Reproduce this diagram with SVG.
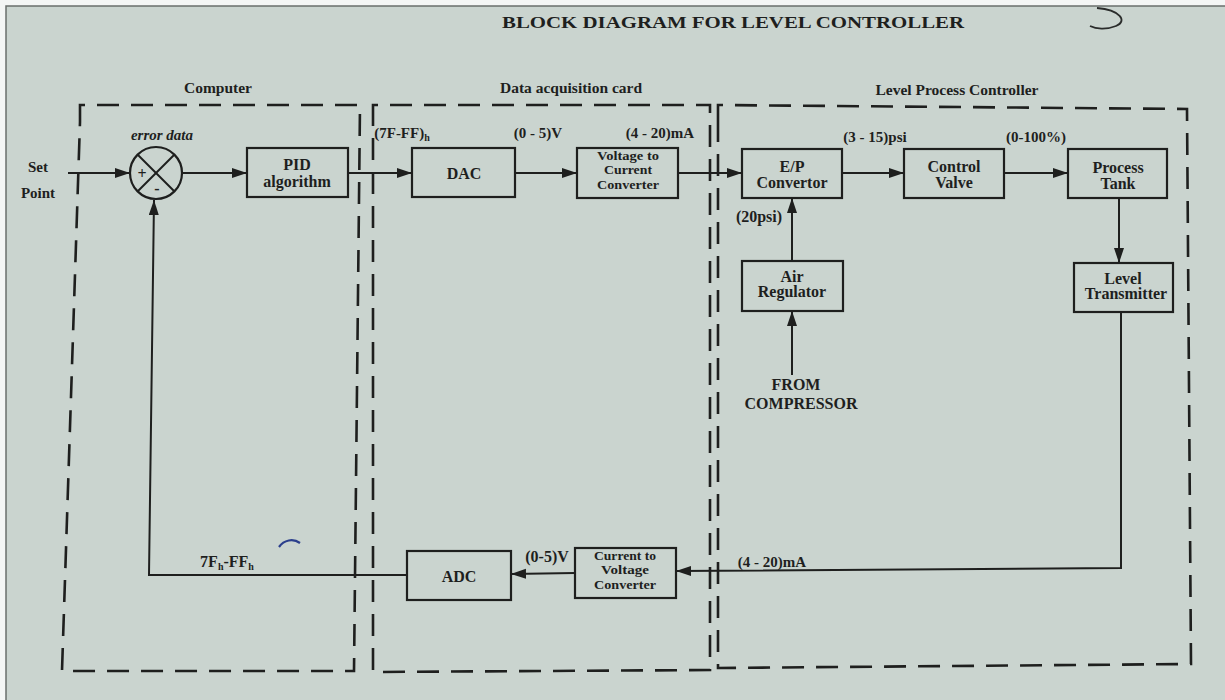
<svg xmlns="http://www.w3.org/2000/svg" width="1225" height="700" viewBox="0 0 1225 700">
<defs>
<style>
.t{font-family:"Liberation Serif","Times New Roman",serif;font-weight:bold;fill:#1e1f1e;font-size:16px;text-anchor:middle}
.g{font-size:15.5px}
.l{font-size:15px}
.m{font-size:12.5px}
.box{fill:none;stroke:#1e1f1e;stroke-width:2.2}
.dash{fill:none;stroke:#1e1f1e;stroke-width:2.6;stroke-dasharray:22 12}
.ln{fill:none;stroke:#1e1f1e;stroke-width:2}
</style>
<marker id="ah" markerUnits="userSpaceOnUse" markerWidth="16" markerHeight="12" refX="15" refY="5" orient="auto">
<path d="M0,0 L15,5 L0,10 z" fill="#1e1f1e"/>
</marker>
</defs>
<rect x="0" y="0" width="1225" height="700" fill="#f4f6f5"/>
<rect x="6" y="6" width="1225" height="700" fill="#cad4cf" stroke="#6a6f6c" stroke-width="1.5"/>

<text class="t" x="733" y="28" font-size="19.5" textLength="462" lengthAdjust="spacingAndGlyphs">BLOCK DIAGRAM FOR LEVEL CONTROLLER</text>
<path d="M1097,8 C1120,10 1128,21 1116,26 C1106,30 1096,29 1090,26" fill="none" stroke="#2a2c2b" stroke-width="1.8"/>
<path d="M279,547 C284,540 293,538 300,543" fill="none" stroke="#2b3f8c" stroke-width="2.2"/>

<g id="group-computer">
<path class="dash" d="M80,122 L80,105 L360,105 L354,671 L62,671 L80,122"/>
<text class="t g" x="218" y="93">Computer</text>
</g>
<g id="group-daq">
<path class="dash" d="M373,122 L373,105 L710,105 L710,670 L373,672 L373,122"/>
<text class="t g" x="571" y="93">Data acquisition card</text>
</g>
<g id="group-lpc">
<path class="dash" d="M718,122 L718,105 L1187,109 L1191,664 L718,668 L718,122"/>
<text class="t g" x="957" y="95">Level Process Controller</text>
</g>

<g id="setpoint">
<text class="t l" x="38" y="172">Set</text>
<text class="t l" x="38" y="198">Point</text>
</g>

<g id="summing">
<circle cx="156" cy="173" r="26" class="box"/>
<line x1="138" y1="155" x2="174" y2="191" class="ln"/>
<line x1="174" y1="155" x2="138" y2="191" class="ln"/>
<text class="t" x="142" y="179" font-size="11">+</text>
<text class="t" x="157" y="194" font-size="12">-</text>
<text class="t l" x="162" y="140" font-style="italic">error data</text>
</g>

<g id="pid">
<rect class="box" x="247" y="148" width="101" height="49"/>
<text class="t" x="297" y="170">PID</text>
<text class="t" x="297" y="187">algorithm</text>
</g>
<g id="dac">
<rect class="box" x="412" y="148" width="103" height="49"/>
<text class="t" x="464" y="179" font-size="17">DAC</text>
</g>
<g id="vtoc">
<rect class="box" x="577" y="148" width="101" height="50"/>
<text class="t m" x="628" y="159.5" textLength="62" lengthAdjust="spacingAndGlyphs">Voltage to</text>
<text class="t m" x="628" y="174" textLength="48" lengthAdjust="spacingAndGlyphs">Current</text>
<text class="t m" x="628" y="188.5" textLength="62" lengthAdjust="spacingAndGlyphs">Converter</text>
</g>
<g id="ep">
<rect class="box" x="742" y="149" width="100" height="49"/>
<text class="t" x="792" y="172">E/P</text>
<text class="t" x="792" y="188">Convertor</text>
</g>
<g id="valve">
<rect class="box" x="904" y="149" width="100" height="49"/>
<text class="t" x="954" y="172">Control</text>
<text class="t" x="954" y="188">Valve</text>
</g>
<g id="tank">
<rect class="box" x="1068" y="149" width="99" height="49"/>
<text class="t" x="1118" y="173">Process</text>
<text class="t" x="1118" y="189">Tank</text>
</g>
<g id="airreg">
<rect class="box" x="742" y="261" width="101" height="50"/>
<text class="t" x="792" y="282">Air</text>
<text class="t" x="792" y="297">Regulator</text>
</g>
<g id="compressor">
<text class="t" x="796" y="390">FROM</text>
<text class="t" x="801" y="409">COMPRESSOR</text>
</g>
<g id="lt">
<rect class="box" x="1074" y="263" width="99" height="49"/>
<text class="t" x="1123" y="284">Level</text>
<text class="t" x="1126" y="299">Transmitter</text>
</g>
<g id="ctov">
<rect class="box" x="575" y="548" width="101" height="50"/>
<text class="t m" x="625" y="559.5" textLength="62" lengthAdjust="spacingAndGlyphs">Current to</text>
<text class="t m" x="625" y="574" textLength="48" lengthAdjust="spacingAndGlyphs">Voltage</text>
<text class="t m" x="625" y="588.5" textLength="62" lengthAdjust="spacingAndGlyphs">Converter</text>
</g>
<g id="adc">
<rect class="box" x="407" y="551" width="104" height="49"/>
<text class="t" x="459" y="582" font-size="17">ADC</text>
</g>

<g id="connectors">
<path class="ln" d="M68,173 L130,173" marker-end="url(#ah)"/>
<path class="ln" d="M182,173 L247,173" marker-end="url(#ah)"/>
<path class="ln" d="M348,173 L412,173" marker-end="url(#ah)"/>
<path class="ln" d="M515,173 L577,173" marker-end="url(#ah)"/>
<path class="ln" d="M678,173 L742,173" marker-end="url(#ah)"/>
<path class="ln" d="M842,173 L904,173" marker-end="url(#ah)"/>
<path class="ln" d="M1004,173 L1068,173" marker-end="url(#ah)"/>
<path class="ln" d="M1119,198 L1119,263" marker-end="url(#ah)"/>
<path class="ln" d="M1121,312 L1121,568 L676,571" marker-end="url(#ah)"/>
<path class="ln" d="M575,573 L511,574" marker-end="url(#ah)"/>
<path class="ln" d="M407,575 L149,575 L154,200" marker-end="url(#ah)"/>
<path class="ln" d="M792,261 L792,198" marker-end="url(#ah)"/>
<path class="ln" d="M792,375 L792,311" marker-end="url(#ah)"/>
</g>

<g id="labels">
<text class="t l" x="402" y="138">(7F-FF)<tspan font-size="10" dy="3">h</tspan></text>
<text class="t l" x="538" y="138">(0 - 5)V</text>
<text class="t l" x="660" y="138">(4 - 20)mA</text>
<text class="t l" x="875" y="142">(3 - 15)psi</text>
<text class="t l" x="1036" y="142">(0-100%)</text>
<text class="t" x="759" y="222" font-size="14">(20psi)</text>
<text class="t l" x="772" y="567">(4 - 20)mA</text>
<text class="t" x="547" y="562" font-size="14">(0-5)V</text>
<text class="t" x="227" y="567" font-size="14">7F<tspan font-size="10" dy="3">h</tspan><tspan dy="-3">-FF</tspan><tspan font-size="10" dy="3">h</tspan></text>
</g>
</svg>
